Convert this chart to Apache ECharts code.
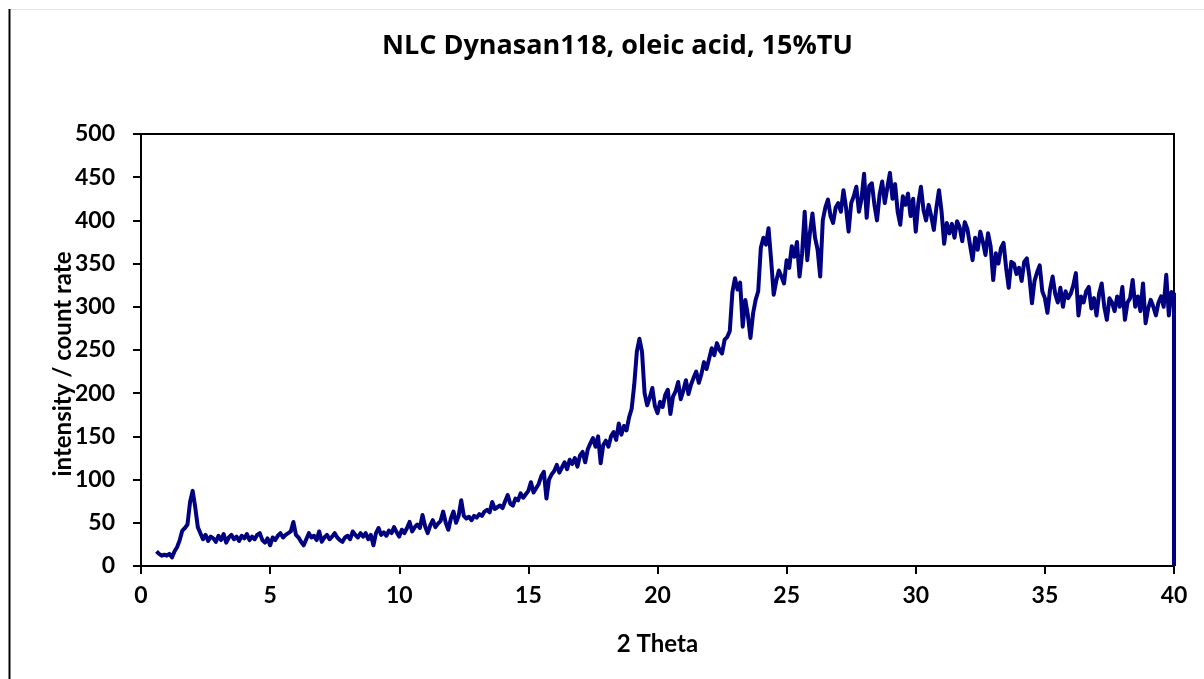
<!DOCTYPE html>
<html>
<head>
<meta charset="utf-8">
<title>NLC Dynasan118, oleic acid, 15%TU</title>
<script src="https://cdn.jsdelivr.net/npm/echarts@6/dist/echarts.min.js"></script>
<style>
  html, body { margin: 0; padding: 0; background: #fff; }
  #chart { width: 1204px; height: 679px; }
</style>
</head>
<body>
<div id="chart"></div>
<script>
  // scan settings (2 theta, degrees)
  const startAngle = 0.6
  const stepAngle = 0.1
  const xTicks = [0, 5, 10, 15, 20, 25, 30, 35, 40]
  const yTicks = [0, 50, 100, 150, 200, 250, 300, 350, 400, 450, 500]

  // intensity, 0.6 .. 40.0 in 0.1 steps
  const intensity = [
    17, 14, 12, 13,
    12, 14, 10, 17, 22, 30, 41, 44, 48, 74,
    87, 68, 45, 38, 31, 36, 29, 34, 32, 28,
    35, 30, 37, 27, 33, 36, 31, 34, 29, 35,
    32, 37, 30, 34, 31, 36, 38, 30, 27, 32,
    24, 33, 30, 35, 38, 33, 36, 38, 40, 51,
    36, 33, 28, 24, 31, 38, 33, 35, 30, 40,
    28, 33, 36, 31, 34, 38, 33, 30, 28, 33,
    35, 31, 40, 36, 33, 38, 34, 38, 31, 36,
    24, 38, 44, 36, 39, 35, 41, 38, 45, 39,
    34, 42, 38, 44, 51, 40, 45, 48, 44, 59,
    46, 38, 47, 53, 45, 49, 52, 63, 50, 42,
    55, 63, 50, 58, 76, 58, 55, 57, 53, 58,
    56, 60, 58, 63, 65, 62, 74, 66, 68, 70,
    67, 75, 82, 72, 70, 78, 76, 84, 79, 83,
    87, 97, 85, 90, 95, 104, 109, 78, 100, 106,
    110, 117, 108, 114, 120, 112, 123, 118, 125, 115,
    128, 132, 120, 135, 142, 148, 138, 150, 119, 140,
    145, 138, 150, 155, 146, 165, 152, 162, 157, 172,
    182, 210, 248, 263, 248, 200, 186, 195, 206, 185,
    177, 190, 184, 198, 204, 176, 196, 202, 213, 193,
    203, 215, 199, 210, 218, 225, 212, 222, 236, 228,
    240, 252, 244, 258, 250, 246, 262, 265, 272, 317,
    333, 320, 328, 277, 308, 290, 264, 292, 308, 318,
    368, 380, 372, 391, 354, 314, 330, 342, 335, 327,
    354, 345, 370, 358, 375, 335, 362, 410, 354, 385,
    408, 380, 366, 335, 400, 415, 424, 405, 397, 415,
    420, 410, 435, 415, 387, 420, 428, 439, 410, 425,
    454, 403, 440, 443, 418, 400, 430, 445, 420, 438,
    455, 425, 442, 410, 395, 428, 418, 431, 405, 425,
    387, 420, 439, 412, 400, 418, 405, 389, 415, 435,
    410, 373, 397, 385, 396, 380, 399, 392, 376, 398,
    390, 372, 354, 380, 366, 387, 375, 360, 385, 370,
    331, 362, 350, 368, 374, 345, 322, 352, 350, 338,
    345, 330, 352, 356, 335, 304, 330, 340, 348, 318,
    310, 293, 320, 335, 315, 305, 322, 300, 318, 310,
    315, 325, 339, 290, 312, 305, 318, 323, 298, 310,
    290, 315, 327, 300, 285, 310, 305, 295, 312, 300,
    323, 285, 305, 310, 331, 300, 312, 295, 327, 281,
    298, 308, 300, 290, 305, 312, 300, 337, 290, 317,
    315
  ]
  // detector value at the very end of the scan
  const endAngle = 40
  const endIntensity = 0

  const seriesData = []
  for (let i = 0; i < intensity.length; i++) {
    seriesData.push([+(startAngle + i * stepAngle).toFixed(2), intensity[i]])
  }
  seriesData.push([endAngle, endIntensity])

  const font = 'Lato, "Open Sans", sans-serif'
  const myChart = echarts.init(document.getElementById('chart'), null, { renderer: 'canvas' })

  myChart.setOption({
    animation: false,
    backgroundColor: '#fff',
    title: {
      text: 'NLC Dynasan118, oleic acid, 15%TU',
      left: 377,
      top: 28,
      textStyle: { fontFamily: '"Open Sans", sans-serif', fontWeight: 'bold', fontSize: 27, color: '#000' }
    },
    grid: {
      left: 141,
      right: 30,
      top: 134,
      bottom: 113,
      show: true,
      borderColor: '#000',
      borderWidth: 2
    },
    xAxis: {
      type: 'value',
      min: xTicks[0],
      max: xTicks[xTicks.length - 1],
      interval: 5,
      name: '2 Theta',
      nameLocation: 'middle',
      nameGap: 66,
      nameTextStyle: { fontFamily: font, fontWeight: 'bold', fontSize: 24, color: '#000' },
      axisLine: { show: true, lineStyle: { color: '#000', width: 2 } },
      axisTick: { show: true, inside: false, length: 8, lineStyle: { color: '#000', width: 2 } },
      axisLabel: { margin: 18, fontFamily: font, fontWeight: 'bold', fontSize: 23, color: '#000' },
      splitLine: { show: false }
    },
    yAxis: {
      type: 'value',
      min: yTicks[0],
      max: yTicks[yTicks.length - 1],
      interval: 50,
      axisLine: { show: true, lineStyle: { color: '#000', width: 2 } },
      axisTick: { show: true, inside: false, length: 8, lineStyle: { color: '#000', width: 2 } },
      axisLabel: { margin: 26, fontFamily: font, fontWeight: 'bold', fontSize: 23, color: '#000' },
      splitLine: { show: false }
    },
    graphic: [
      {
        type: 'line',
        shape: { x1: 9, y1: 9.5, x2: 1204, y2: 9.5 },
        style: { stroke: '#e4e4e4', lineWidth: 1 }
      },
      {
        type: 'line',
        shape: { x1: 9.5, y1: 9, x2: 9.5, y2: 679 },
        style: { stroke: '#000', lineWidth: 2 }
      },
      {
        type: 'text',
        x: 63,
        y: 364,
        rotation: Math.PI / 2,
        style: {
          text: 'intensity / count rate',
          font: 'bold 24px ' + font,
          fill: '#000',
          align: 'center',
          verticalAlign: 'middle'
        }
      }
    ],
    series: [{
      name: 'intensity',
      type: 'line',
      data: seriesData,
      showSymbol: false,
      symbol: 'none',
      lineStyle: { color: '#000080', width: 4, join: 'round' },
      clip: true
    }]
  })
</script>
</body>
</html>
